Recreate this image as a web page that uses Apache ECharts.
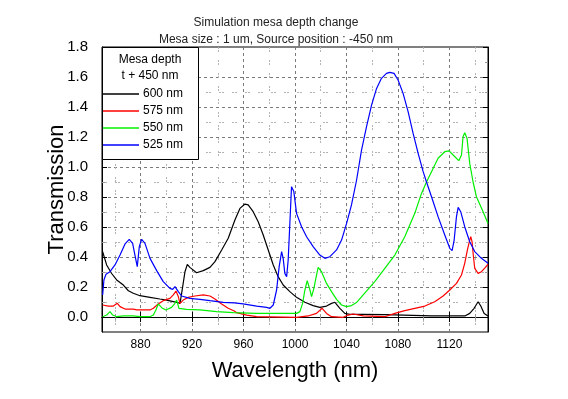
<!DOCTYPE html>
<html>
<head>
<meta charset="utf-8">
<script src="https://cdn.jsdelivr.net/npm/echarts@6/dist/echarts.min.js"></script>
<style>
  html, body { margin: 0; padding: 0; background: #fff; }
  #chart { width: 568px; height: 399px; }
</style>
</head>
<body>
<div id="chart"></div>
<script>
// ticks
var xMajor = [880, 920, 960, 1000, 1040, 1080, 1120];
var xMinor = [860, 900, 940, 980, 1020, 1060, 1100, 1140];
var yMajor = [0, 0.2, 0.4, 0.6, 0.8, 1.0, 1.2, 1.4, 1.6, 1.8];
var yMinor = [0.1, 0.3, 0.5, 0.7, 0.9, 1.1, 1.3, 1.5, 1.7];

var seriesNames = ['600 nm', '575 nm', '550 nm', '525 nm'];

// 600 nm (black)
var d600 = [[850.5,0.435],[853.6,0.347],[857.5,0.29],[861.4,0.247],[866.6,0.213],[870.5,0.175],[874.3,0.158],
  [879.5,0.142],[887.3,0.131],[895,0.12],[900.2,0.113],[908,0.098],[910.6,0.091],[911.9,0.158],[914.5,0.302],
  [916.3,0.351],[918.3,0.331],[923.5,0.295],[928.7,0.309],[933.9,0.331],[937.8,0.369],[943,0.447],[948.1,0.525],
  [953.3,0.647],[957.2,0.724],[961.1,0.753],[963.6,0.747],[967.5,0.702],[971.4,0.635],[975.3,0.547],
  [979.2,0.447],[983.1,0.347],[986.9,0.269],[990.8,0.213],[996,0.169],[1001.2,0.131],[1007.7,0.098],
  [1014.1,0.076],[1019.3,0.064],[1024.5,0.073],[1028.4,0.091],[1031,0.098],[1034.9,0.058],[1038.7,0.024],
  [1042.6,0.018],[1053,0.018],[1069.8,0.016],[1071,0.009],[1106,0.007],[1132,0.007],[1135.8,0.024],
  [1139.2,0.058],[1142.3,0.102],[1144.4,0.073],[1147,0.024],[1150,0.007]];

// 575 nm (red)
var d575 = [[850.5,0.08],[854.9,0.073],[858.8,0.073],[861.9,0.091],[864,0.069],[867.9,0.053],[874.3,0.053],
  [877,0.047],[887.3,0.047],[889.9,0.058],[893.7,0.087],[897.6,0.109],[902.8,0.124],[905.4,0.147],[907.5,0.173],
  [909.3,0.136],[910.6,0.091],[913.1,0.113],[917,0.131],[922.2,0.14],[928.7,0.147],[933.9,0.14],[937.8,0.12],
  [943,0.087],[948.1,0.058],[952.8,0.04],[954.6,0.029],[962.4,0.013],[970.2,0.002],[1001.2,-0.002],
  [1010.2,0.007],[1016.7,0.024],[1021.1,0.058],[1024.5,0.024],[1028.4,0.002],[1037.4,-0.002],[1041.3,0.013],
  [1045.2,0.02],[1053,0.007],[1069.8,0.002],[1077.6,0.024],[1085.3,0.042],[1093.1,0.058],[1100.9,0.073],
  [1108.6,0.102],[1115.1,0.14],[1120.3,0.18],[1125.5,0.224],[1129.4,0.28],[1131.9,0.358],[1134,0.447],
  [1135.8,0.513],[1136.6,0.535],[1137.6,0.502],[1138.7,0.402],[1139.7,0.324],[1142.3,0.291],[1144.9,0.302],
  [1148,0.331],[1150,0.353]];

// 550 nm (green)
var d550 = [[850.5,0.002],[853.6,0.013],[856.2,0.036],[858.3,0.013],[861.4,0.002],[866.6,0.007],[874.3,0.007],
  [879.5,0.002],[887.3,0.002],[889.9,0.013],[891.9,0.047],[893.7,0.087],[896.4,0.062],[899.7,0.047],
  [904.1,0.064],[906.7,0.091],[908,0.113],[909.8,0.058],[915.8,0.051],[926.1,0.047],[939.1,0.036],[952,0.029],
  [970,0.024],[1001.2,0.024],[1003.8,0.036],[1005.9,0.091],[1007.7,0.18],[1009.5,0.242],[1011.6,0.18],
  [1012.9,0.136],[1014.7,0.191],[1016.2,0.258],[1018,0.331],[1020.6,0.302],[1024.5,0.224],[1028.4,0.169],
  [1032.3,0.118],[1036.2,0.08],[1040.1,0.069],[1043.9,0.076],[1047.8,0.096],[1053,0.147],[1054.3,0.158],
  [1062,0.236],[1069.8,0.324],[1077.6,0.413],[1085.3,0.535],[1093.1,0.691],[1098.3,0.824],[1102.2,0.9],
  [1106.1,0.969],[1111.2,1.058],[1116.4,1.102],[1119.8,1.107],[1122.9,1.08],[1127.3,1.042],[1129.4,1.08],
  [1130.6,1.202],[1131.9,1.229],[1133.7,1.191],[1135.8,1.024],[1138.4,0.9],[1141,0.802],[1146.2,0.702],
  [1150,0.624]];

// 525 nm (blue)
var d525 = [[850.5,0.147],[851.5,0.247],[853.1,0.285],[856.2,0.302],[860.1,0.347],[864,0.413],[867.9,0.487],
  [871.2,0.518],[873.8,0.491],[875.6,0.413],[877.4,0.336],[879,0.469],[880.8,0.518],[883.4,0.491],
  [887.3,0.391],[892.5,0.309],[897.6,0.236],[902.8,0.191],[904.9,0.184],[906.7,0.202],[909.3,0.169],
  [911.9,0.14],[918.3,0.124],[926.1,0.118],[933.9,0.109],[944.2,0.098],[952.8,0.094],[959.7,0.087],
  [970.2,0.073],[977.9,0.064],[980.5,0.058],[983.1,0.08],[985.7,0.18],[987.7,0.336],[989.6,0.436],
  [990.8,0.391],[992.1,0.291],[993.5,0.269],[994.7,0.38],[996,0.624],[997.3,0.869],[998,0.88],[999.1,0.836],
  [1001.2,0.691],[1005.1,0.602],[1009,0.535],[1014.1,0.469],[1019.3,0.413],[1023.2,0.391],[1027.1,0.402],
  [1032.3,0.447],[1036.2,0.513],[1040.1,0.624],[1043.9,0.747],[1047.8,0.91],[1051.7,1.113],[1055.6,1.269],
  [1059.5,1.413],[1063.4,1.524],[1067.2,1.591],[1071.1,1.624],[1073.7,1.631],[1077,1.624],[1080.1,1.58],
  [1084,1.491],[1087.9,1.369],[1091.8,1.224],[1095.7,1.091],[1099.6,0.969],[1102.2,0.9],[1106.1,0.802],
  [1111.2,0.669],[1116.4,0.547],[1120.3,0.458],[1122.1,0.442],[1123.7,0.513],[1125.5,0.669],[1126.8,0.731],
  [1128.8,0.702],[1131.9,0.602],[1135.8,0.502],[1139.7,0.436],[1144.9,0.391],[1150,0.358]];

var seriesData = [d600, d575, d550, d525];
var seriesColors = ['#000000', '#ff0000', '#00f000', '#0000ff'];

var FONT = 'Liberation Sans, Arial, sans-serif';
var chart = echarts.init(document.getElementById('chart'));

function xAx(pos, ticks, major, labels) {
    return {
        type: 'value', position: pos, min: 850, max: 1150,
        axisLine: { show: major, lineStyle: { color: '#000', width: 1 } },
        axisTick: { inside: true, length: major ? 5 : 3, customValues: ticks,
            lineStyle: { color: major ? '#000' : '#999' } },
        axisLabel: labels ? { customValues: ticks, margin: 7, color: '#000', fontSize: 12, fontFamily: FONT,
            formatter: function (v) { return String(v); } } : { show: false },
        splitLine: pos === 'bottom' ? { show: true, showMinLine: true, showMaxLine: true,
            lineStyle: major ? { color: '#7a7a7a', type: [3, 3] } : { color: '#b4b4b4', type: [2, 1, 2, 8] } }
                          : { show: false }
    };
}
function yAx(pos, ticks, major, labels) {
    return {
        type: 'value', position: pos, min: -0.1, max: 1.8,
        axisLine: { show: major, lineStyle: { color: '#000', width: 1 } },
        axisTick: { inside: true, length: major ? 5 : 3, customValues: ticks,
            lineStyle: { color: major ? '#000' : '#999' } },
        axisLabel: labels ? { customValues: ticks, margin: 14, color: '#000', fontSize: 15, fontFamily: FONT,
            formatter: function (v) { return v.toFixed(1); } } : { show: false },
        splitLine: pos === 'left' ? { show: true, showMinLine: true, showMaxLine: false,
            lineStyle: major ? { color: '#7a7a7a', type: [3, 3] } : { color: '#b4b4b4', type: [2, 1, 2, 8] } }
                          : { show: false }
    };
}

var xAxes = [xAx('bottom', xMajor, true, true), xAx('bottom', xMinor, false, false),
             xAx('top', xMajor, true, false), xAx('top', xMinor, false, false)];
xAxes[0].name = 'Wavelength (nm)';
xAxes[0].nameLocation = 'middle';
xAxes[0].nameGap = 28;
xAxes[0].nameMoveOverlap = false;
xAxes[0].nameTextStyle = { fontSize: 22, color: '#000', fontFamily: FONT };

var yAxes = [yAx('left', yMajor, true, true), yAx('left', yMinor, false, false),
             yAx('right', yMajor, true, false), yAx('right', yMinor, false, false)];
yAxes[0].name = 'Transmission';
yAxes[0].nameLocation = 'middle';
yAxes[0].nameGap = 34;
yAxes[0].nameMoveOverlap = false;
yAxes[0].nameTextStyle = { fontSize: 22, color: '#000', fontFamily: FONT };

var series = [];
for (var i = 0; i < seriesNames.length; i++) {
    series.push({
        name: seriesNames[i],
        type: 'line',
        data: seriesData[i],
        showSymbol: false,
        symbol: 'none',
        smooth: false,
        color: seriesColors[i],
        lineStyle: { width: 1.2, color: seriesColors[i] },
        z: 2 + i
    });
}

var option = {
    backgroundColor: '#fff',
    animation: false,
    title: {
        text: 'Simulation mesa depth change\nMesa size : 1 um, Source position : -450 nm',
        left: 271, top: 9, textAlign: 'center',
        textStyle: { fontSize: 12, fontWeight: 'normal', color: '#222', lineHeight: 17, fontFamily: FONT }
    },
    grid: { left: 102, right: 80, top: 47, bottom: 67, show: true, borderColor: '#000', borderWidth: 1,
        backgroundColor: 'transparent' },
    xAxis: xAxes,
    yAxis: yAxes,
    legend: {
        orient: 'vertical', left: 103, top: 88, padding: 0, itemGap: 5,
        itemWidth: 36, itemHeight: 1.5, icon: 'rect', z: 10,
        textStyle: { fontSize: 12, color: '#000', fontFamily: FONT, padding: [0, 0, 0, -1] },
        data: seriesNames
    },
    graphic: [
        { type: 'rect', z: 8, shape: { x: 102.5, y: 47.5, width: 96, height: 112 },
          style: { fill: '#fff', stroke: '#000', lineWidth: 1 } },
        { type: 'text', z: 9, x: 150, y: 54, style: { text: 'Mesa depth', fontSize: 12, fontFamily: FONT,
          fill: '#000', textAlign: 'center' } },
        { type: 'text', z: 9, x: 150, y: 70, style: { text: 't + 450 nm', fontSize: 12, fontFamily: FONT,
          fill: '#000', textAlign: 'center' } }
    ],
    series: series
};
chart.setOption(option);
</script>
</body>
</html>
